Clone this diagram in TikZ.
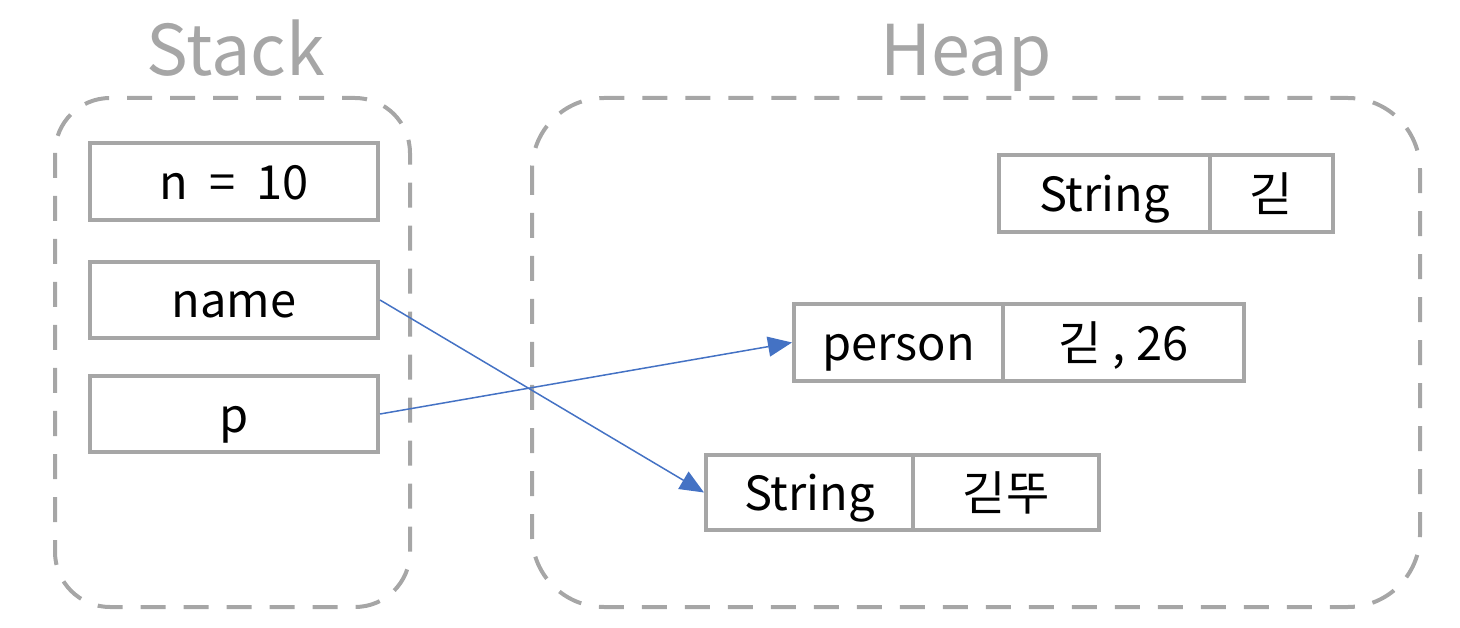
\documentclass[tikz,border=0pt]{standalone}
\usepackage{fontspec}
\setmainfont{Noto Sans CJK KR}
\usetikzlibrary{arrows.meta}
\definecolor{boxgray}{HTML}{A6A6A6}
\definecolor{arrblue}{HTML}{4472C4}
\tikzset{
  cell/.style={draw=boxgray, line width=4pt, fill=white, inner sep=0pt,
    font=\fontsize{47}{52}\selectfont, text=black, text height=36pt, text depth=0pt},
  region/.style={draw=boxgray, line width=4pt, dash pattern=on 25pt off 18pt},
  title/.style={text=boxgray, font=\fontsize{70}{80}\selectfont, anchor=base},
  ref/.style={draw=arrblue, line width=1.5pt, -{Triangle[length=24pt,width=20pt]}}
}
\begin{document}
\begin{tikzpicture}[x=1pt,y=-1pt]
\useasboundingbox (0,0) rectangle (1460,628);
% titles
\node[title] (tstack) at (236,76) {Stack};
\node[title] (theap) at (966,76) {Heap};
% regions
\draw[region, rounded corners=55pt] (55,98) rectangle (410,607);
\draw[region, rounded corners=72pt] (532,98) rectangle (1420,607);
% stack cells
\node[cell, minimum width=288pt, minimum height=77pt] (n) at (234,181.5) {n\ \ =\ \ 10};
\node[cell, minimum width=288pt, minimum height=76pt] (name) at (234,300) {name};
\node[cell, minimum width=288pt, minimum height=76pt] (p) at (234,414) {p};
% heap cells
\node[cell, minimum width=211pt, minimum height=77pt] (s1a) at (1104.5,193.5) {String};
\node[cell, minimum width=123pt, minimum height=77pt] (s1b) at (1271.5,193.5) {긷};
\node[cell, minimum width=209pt, minimum height=77pt] (pa) at (898.5,342.5) {person};
\node[cell, minimum width=241pt, minimum height=77pt] (pb) at (1123.5,342.5) {긷 , 26};
\node[cell, minimum width=207pt, minimum height=75pt] (s2a) at (809.5,492.5) {String};
\node[cell, minimum width=186pt, minimum height=75pt] (s2b) at (1006,492.5) {긷뚜};
% references
\draw[ref] (name.east) -- (s2a.west);
\draw[ref] (p.east) -- (pa.west);
\end{tikzpicture}
\end{document}
